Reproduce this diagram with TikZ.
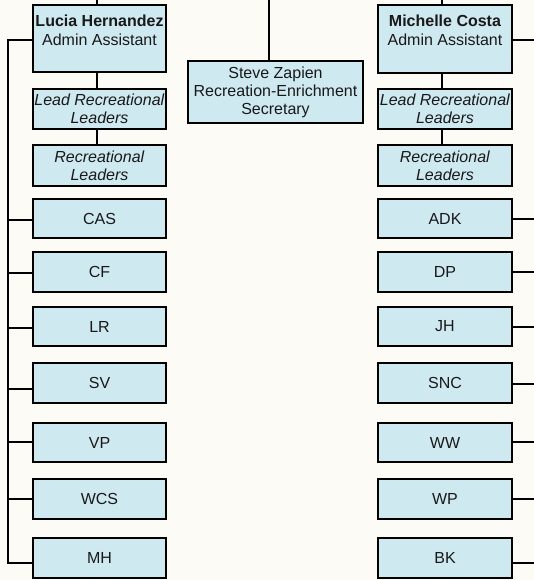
\documentclass[tikz,border=0pt]{standalone}
\usepackage{fontspec}
\setmainfont{Liberation Sans}
\definecolor{boxfill}{HTML}{CFE9F1}
\definecolor{bgcol}{HTML}{FCFBF6}
\begin{document}
\begin{tikzpicture}[x=1pt,y=-1pt,
  box/.style={draw=black, line width=2.5pt, fill=boxfill, inner sep=0pt,
    align=center, text=black!90, font=\fontsize{16}{18}\selectfont},
  colL/.style={box, minimum width=133pt},
  colR/.style={box, minimum width=134pt},
  conn/.style={draw=black, line width=1.5pt}]
\useasboundingbox (0,0) rectangle (534,580);
\clip (0,0) rectangle (534,580);
\fill[bgcol] (0,0) rectangle (534,580);

% coordinates for free ends
\coordinate (topL) at (97,-10);
\coordinate (topM) at (269,-10);
\coordinate (topR) at (442,-10);
\coordinate (barL) at (8,40);
\coordinate (barR) at (545,40);

% head boxes
\node[colL, minimum height=67pt] (lucia) at (99.5,38.5)
  {\parbox[c][65pt][t]{131pt}{\centering\baselineskip=19pt\vspace*{9pt}\textbf{Lucia Hernandez}\\Admin Assistant}};
\node[colR, minimum height=68pt] (michelle) at (445,39)
  {\parbox[c][66pt][t]{132pt}{\centering\baselineskip=19pt\vspace*{9pt}\textbf{Michelle Costa}\\Admin Assistant}};
\node[box, minimum width=175pt, minimum height=62pt] (steve) at (275.5,92)
  {Steve Zapien\\Recreation-Enrichment\\Secretary};

% lead and recreational leaders
\node[colL, minimum height=40pt] (leadL) at (99.5,109) {\textit{Lead Recreational}\\\textit{Leaders}};
\node[colL, minimum height=41pt] (recL) at (99.5,165.5) {\textit{Recreational}\\\textit{Leaders}};
\node[colR, minimum height=40pt] (leadR) at (445,109) {\textit{Lead Recreational}\\\textit{Leaders}};
\node[colR, minimum height=41pt] (recR) at (445,165.5) {\textit{Recreational}\\\textit{Leaders}};

% left sites
\node[colL, minimum height=39pt] (cas) at (99.5,218.5) {CAS};
\node[colL, minimum height=40pt] (cf)  at (99.5,272) {CF};
\node[colL, minimum height=39pt] (lr)  at (99.5,326.5) {LR};
\node[colL, minimum height=40pt] (sv)  at (99.5,383) {SV};
\node[colL, minimum height=39pt] (vp)  at (99.5,442.5) {VP};
\node[colL, minimum height=40pt] (wcs) at (99.5,499) {WCS};
\node[colL, minimum height=40pt] (mh)  at (99.5,558) {MH};

% right sites
\node[colR, minimum height=39pt] (adk) at (445,218.5) {ADK};
\node[colR, minimum height=40pt] (dp)  at (445,272) {DP};
\node[colR, minimum height=39pt] (jh)  at (445,326.5) {JH};
\node[colR, minimum height=40pt] (snc) at (445,383) {SNC};
\node[colR, minimum height=39pt] (ww)  at (445,442.5) {WW};
\node[colR, minimum height=40pt] (wp)  at (445,499) {WP};
\node[colR, minimum height=40pt] (bk)  at (445,558) {BK};

% top connectors
\draw[conn] (topL) -- (topL |- lucia.north);
\draw[conn] (topM) -- (topM |- steve.north);
\draw[conn] (topR) -- (topR |- michelle.north);

% vertical chains
\draw[conn] (topL |- lucia.south) -- (topL |- leadL.north);
\draw[conn] (topL |- leadL.south) -- (topL |- recL.north);
\draw[conn] (topR |- michelle.south) -- (topR |- leadR.north);
\draw[conn] (topR |- leadR.south) -- (topR |- recR.north);

% left bracket
\draw[conn] ([yshift=-1.5pt]lucia.west) -| (barL) -- ([yshift=-5pt]barL |- mh.west) -- ([yshift=-5pt]mh.west);
\foreach \n/\d in {cas/-1.5,cf/-1,lr/-1.5,sv/-6,vp/0.5,wcs/0}
  \draw[conn] ([yshift=\d pt]\n.west) -- ([yshift=\d pt]barL |- \n.west);

% right bracket
\draw[conn] ([yshift=-1pt]michelle.east) -| (barR) -- ([yshift=-5pt]barR |- bk.west);
\foreach \n/\d in {adk/-0.5,dp/0,jh/-0.5,snc/-1,ww/0.5,wp/0,bk/-5}
  \draw[conn] ([yshift=\d pt]\n.east) -- ([yshift=\d pt]barR |- \n.east);
\end{tikzpicture}
\end{document}
